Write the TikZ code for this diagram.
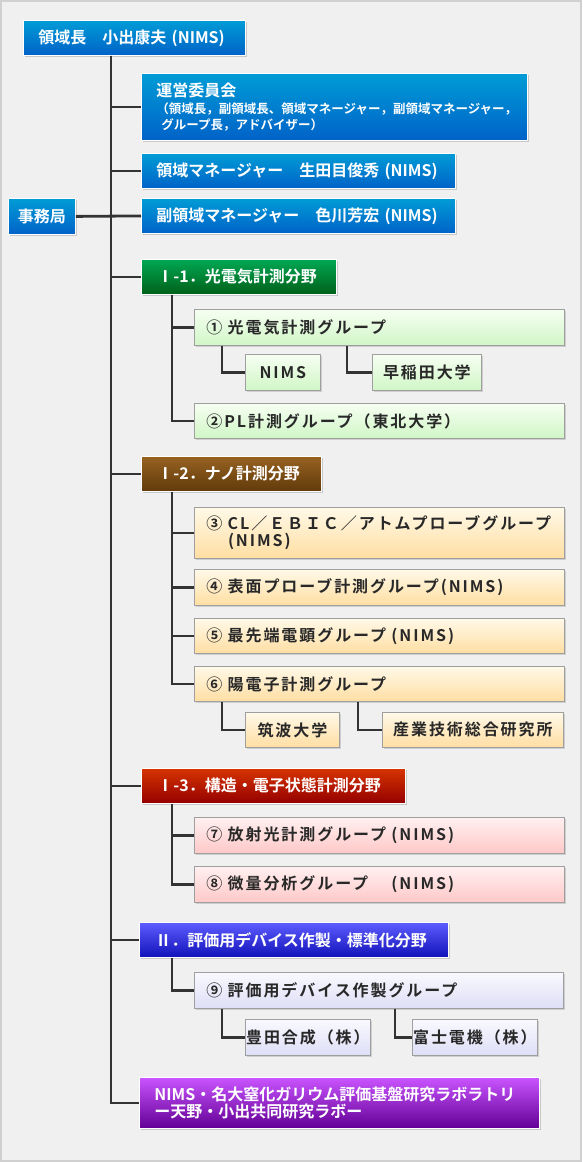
\documentclass[tikz,border=0pt]{standalone}
\usepackage{fontspec}
\setmainfont{Noto Sans CJK JP}[BoldFont={Noto Sans CJK JP Bold}]
\newfontfamily\spacedjp{Noto Sans CJK JP}[BoldFont={Noto Sans CJK JP Bold},LetterSpace=12]
\usepackage{tikz}
\usetikzlibrary{shadows}
\definecolor{bluetop}{RGB}{0,156,214}
\definecolor{bluebot}{RGB}{0,98,200}
\definecolor{greentop}{RGB}{0,168,84}
\definecolor{greenbot}{RGB}{0,96,24}
\definecolor{browntop}{RGB}{150,98,34}
\definecolor{brownbot}{RGB}{98,58,10}
\definecolor{redtop}{RGB}{214,52,0}
\definecolor{redbot}{RGB}{148,0,0}
\definecolor{indigotop}{RGB}{92,92,255}
\definecolor{indigobot}{RGB}{18,18,186}
\definecolor{purpletop}{RGB}{202,84,255}
\definecolor{purplebot}{RGB}{98,0,148}
\definecolor{ltgreentop}{RGB}{246,255,242}
\definecolor{ltgreenbot}{RGB}{208,246,198}
\definecolor{ltorangetop}{RGB}{255,249,232}
\definecolor{ltorangebot}{RGB}{255,222,162}
\definecolor{pinktop}{RGB}{255,240,240}
\definecolor{pinkbot}{RGB}{255,200,200}
\definecolor{lavtop}{RGB}{249,249,255}
\definecolor{lavbot}{RGB}{222,222,246}
\definecolor{linkgray}{RGB}{51,51,51}
\definecolor{inkgray}{RGB}{40,40,40}
\definecolor{paper}{RGB}{240,240,240}
\definecolor{frame}{RGB}{208,208,208}

\begin{document}
\begin{tikzpicture}[x=1pt,y=-1pt,
    link/.style={draw=linkgray,line width=2.8pt},
    darkbox/.style 2 args={draw=white,line width=0.8pt,top color=#1,bottom color=#2,
      text=white,font=\bfseries\fontsize{16}{19}\selectfont,anchor=north west,
      inner xsep=15pt,inner ysep=0pt,align=left,
      drop shadow={shadow xshift=2pt,shadow yshift=-2pt,opacity=.35}},
    litebox/.style 2 args={draw=gray!75,line width=0.8pt,top color=#1,bottom color=#2,
      text=inkgray,font=\spacedjp\bfseries\fontsize{16}{20}\selectfont,anchor=north west,
      inner xsep=12pt,inner ysep=0pt,align=left,
      drop shadow={shadow xshift=2pt,shadow yshift=-2pt,opacity=.3}}]
  % paper
  \fill[paper] (0,0) rectangle (582,1162);
  \draw[frame,line width=2pt] (1,1) rectangle (581,1161);
  \useasboundingbox (0,0) rectangle (582,1162);
  % head, council and office
  \node[darkbox={bluetop}{bluebot},text width=192pt,minimum height=35pt] (chief) at (23,20)
    {領域長　小出康夫 (NIMS)};
  \node[darkbox={bluetop}{bluebot},text width=356pt,minimum height=67pt] (council) at (141,73)
    {運営委員会\\[-2pt]
     {\fontsize{12.5}{15}\selectfont （領域長，副領域長、領域マネージャー，副領域マネージャー，}\\[-3pt]
     {\fontsize{12.5}{15}\selectfont \hspace{0.4em}グループ長，アドバイザー）}};
  \node[darkbox={bluetop}{bluebot},text width=284pt,minimum height=35pt] (manager) at (141,153)
    {領域マネージャー　生田目俊秀 (NIMS)};
  \node[darkbox={bluetop}{bluebot},text width=284pt,minimum height=35pt] (deputy) at (141,198)
    {副領域マネージャー　色川芳宏 (NIMS)};
  \node[darkbox={bluetop}{bluebot},text width=67pt,inner xsep=0pt,align=center,minimum height=36pt] (office) at (8,198)
    {事務局};
  % field I-1
  \node[darkbox={greentop}{greenbot},text width=163pt,minimum height=35pt,inner xsep=16pt] (field1) at (141,259)
    {Ⅰ-1．光電気計測分野};
  \node[litebox={ltgreentop}{ltgreenbot},text width=346pt,minimum height=36pt] (grp1) at (194,309)
    {① 光電気計測グループ};
  \node[litebox={ltgreentop}{ltgreenbot},text width=75pt,inner xsep=0pt,align=center,minimum height=36pt] (nims1) at (245,354)
    {NIMS};
  \node[litebox={ltgreentop}{ltgreenbot},text width=109pt,inner xsep=0pt,align=center,minimum height=36pt] (waseda) at (372,354)
    {早稲田大学};
  \node[litebox={ltgreentop}{ltgreenbot},text width=346pt,minimum height=35pt] (grp2) at (194,403)
    {②PL計測グループ（東北大学）};
  % field I-2
  \node[darkbox={browntop}{brownbot},text width=148pt,minimum height=35pt,inner xsep=16pt] (field2) at (141,456)
    {Ⅰ-2．ナノ計測分野};
  \node[litebox={ltorangetop}{ltorangebot},text width=346pt,minimum height=51pt] (grp3) at (194,507)
    {③ CL／ＥＢＩＣ／アトムプローブグループ\\[-3pt]\hspace{1.35em}(NIMS)};
  \node[litebox={ltorangetop}{ltorangebot},text width=346pt,minimum height=36pt] (grp4) at (194,569)
    {④ 表面プローブ計測グループ(NIMS)};
  \node[litebox={ltorangetop}{ltorangebot},text width=346pt,minimum height=35pt] (grp5) at (194,618)
    {⑤ 最先端電顕グループ (NIMS)};
  \node[litebox={ltorangetop}{ltorangebot},text width=346pt,minimum height=35pt] (grp6) at (194,666)
    {⑥ 陽電子計測グループ};
  \node[litebox={ltorangetop}{ltorangebot},text width=94pt,inner xsep=0pt,align=center,minimum height=35pt] (tsukuba) at (245,712)
    {筑波大学};
  \node[litebox={ltorangetop}{ltorangebot},text width=181pt,inner xsep=0pt,align=center,minimum height=35pt] (aist) at (382,712)
    {産業技術総合研究所};
  % field I-3
  \node[darkbox={redtop}{redbot},text width=232pt,minimum height=35pt,inner xsep=16pt] (field3) at (141,768)
    {Ⅰ-3．構造・電子状態計測分野};
  \node[litebox={pinktop}{pinkbot},text width=346pt,minimum height=36pt] (grp7) at (194,817)
    {⑦ 放射光計測グループ (NIMS)};
  \node[litebox={pinktop}{pinkbot},text width=346pt,minimum height=36pt] (grp8) at (194,866)
    {⑧ 微量分析グループ　 (NIMS)};
  % field II
  \node[darkbox={indigotop}{indigobot},text width=277pt,minimum height=35pt,inner xsep=16pt] (field4) at (139,922)
    {Ⅱ．評価用デバイス作製・標準化分野};
  \node[litebox={lavtop}{lavbot},text width=345pt,minimum height=36pt] (grp9) at (194,972)
    {⑨ 評価用デバイス作製グループ};
  \node[litebox={lavtop}{lavbot},text width=125pt,inner xsep=0pt,align=center,minimum height=36pt] (toyoda) at (245,1019)
    {豊田合成（株）};
  \node[litebox={lavtop}{lavbot},text width=125pt,inner xsep=0pt,align=center,minimum height=36pt] (fuji) at (412,1019)
    {富士電機（株）};
  % joint lab
  \node[darkbox={purpletop}{purplebot},text width=370pt,minimum height=51pt] (lab) at (139,1077)
    {NIMS・名大窒化ガリウム評価基盤研究ラボラトリ\\[-2pt]ー天野・小出共同研究ラボー};
  % trunk and branches
  \foreach \n in {council,manager,deputy,field1,field2,field3,field4,lab}
    \draw[link] (chief.south west) ++(88,0) |- (\n.west);
  \draw[link] (office.east) -- (deputy.west);
  \foreach \n in {grp1,grp2}
    \draw[link] (field1.south west) ++(31,0) |- (\n.west);
  \foreach \n in {grp3,grp4,grp5,grp6}
    \draw[link] (field2.south west) ++(31,0) |- (\n.west);
  \foreach \n in {grp7,grp8}
    \draw[link] (field3.south west) ++(31,0) |- (\n.west);
  \draw[link] (field4.south west) ++(33,0) |- (grp9.west);
  \draw[link] (grp1.south west) ++(28,0) |- (nims1.west);
  \draw[link] (grp1.south west) ++(153,0) |- (waseda.west);
  \draw[link] (grp6.south west) ++(28,0) |- (tsukuba.west);
  \draw[link] (grp6.south west) ++(164,0) |- (aist.west);
  \draw[link] (grp9.south west) ++(28,0) |- (toyoda.west);
  \draw[link] (grp9.south west) ++(201,0) |- (fuji.west);
\end{tikzpicture}
\end{document}
